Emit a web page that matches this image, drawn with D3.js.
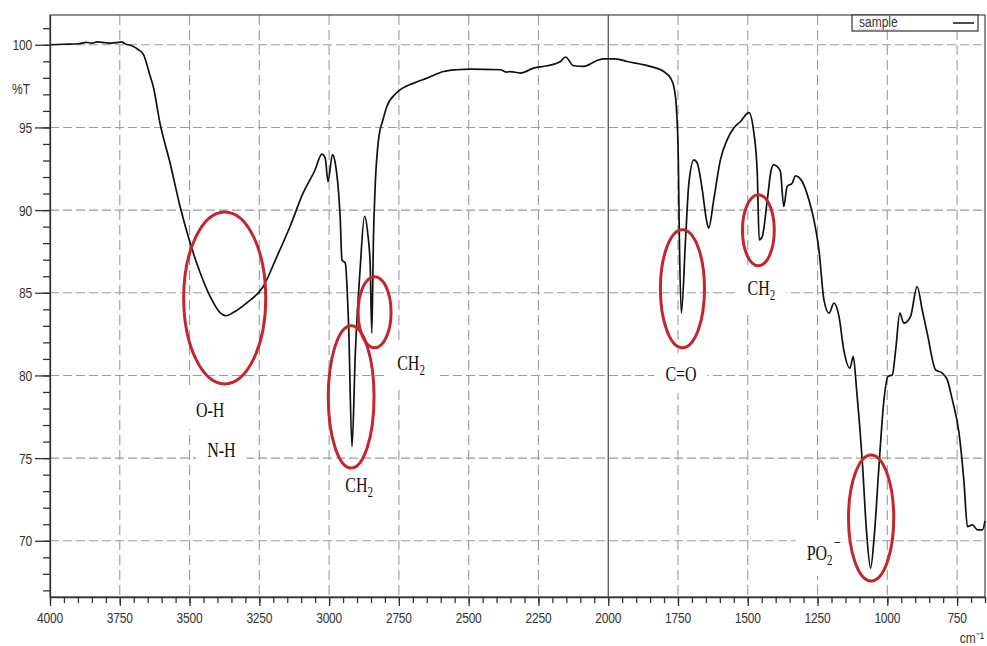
<!DOCTYPE html>
<html>
<head>
<meta charset="utf-8">
<script src="https://cdn.jsdelivr.net/npm/d3@7"></script>
<style>
  body { margin: 0; background: #fff; }
  svg { display: block; }
  .tick-label { font-family: "Liberation Sans", Arial, sans-serif; font-size: 12px; fill: #333; }
  .note { font-family: "Liberation Serif", "Times New Roman", serif; font-size: 16px; fill: #111; }
</style>
</head>
<body>
<svg id="chart" width="987" height="646"></svg>
<script>
/*** DATA ***/
// wavenumber (cm-1) left to right
var wavenumber = [4000, 3950, 3900, 3870, 3850, 3830, 3800, 3780, 3760, 3745, 3730, 3707, 3683, 3665, 3641,
  3630, 3606, 3570, 3534, 3498, 3462, 3426, 3390, 3369, 3344, 3295, 3236, 3187, 3140, 3093, 3050,
  3026, 3014, 3004, 2988, 2978, 2960, 2954, 2942, 2930, 2918, 2906, 2889, 2873, 2861, 2853, 2847,
  2841, 2835, 2823, 2807, 2793, 2757, 2697, 2649, 2590, 2542, 2494, 2387, 2363, 2351, 2315, 2267,
  2219, 2171, 2153, 2124, 2088, 2040, 2016, 1974, 1932, 1849, 1801, 1777, 1765, 1756, 1749, 1745,
  1738, 1723, 1711, 1693, 1681, 1663, 1648, 1640, 1622, 1598, 1574, 1550, 1526, 1496, 1478, 1466,
  1459, 1448, 1430, 1416, 1407, 1395, 1383, 1371, 1359, 1341, 1329, 1305, 1281, 1263, 1245, 1227,
  1209, 1191, 1173, 1156, 1134, 1122, 1110, 1090, 1074, 1060, 1046, 1030, 1012, 998, 982, 970,
  955, 941, 917, 893, 875, 857, 827, 803, 785, 767, 743, 725, 713, 695, 677, 659, 650];

// transmittance (%T)
var transmittance = [100.0, 100.03, 100.06, 100.14, 100.1, 100.17, 100.12, 100.1, 100.13, 100.17, 100.05, 99.94, 99.7, 99.4, 98.1,
  97.48, 95.26, 92.86, 90.22, 88.02, 86.21, 84.77, 83.79, 83.61, 83.8, 84.39, 85.38, 87.19, 89.01, 91.04, 92.44,
  93.39, 93.16, 91.73, 93.35, 92.84, 89.41, 86.99, 86.79, 82.96, 75.69, 81.38, 86.4, 89.62, 88.51, 86.79, 82.56,
  88.4, 91.43, 94.25, 95.46, 96.27, 97.11, 97.68, 97.98, 98.38, 98.49, 98.53, 98.49, 98.35, 98.38, 98.29, 98.59,
  98.73, 98.99, 99.26, 98.73, 98.69, 99.05, 99.15, 99.15, 98.99, 98.69, 98.38, 97.99, 97.48, 96.27, 93.24, 88.2,
  83.77, 88.2, 91.63, 93.04, 92.84, 91.23, 89.41, 88.91, 90.62, 93.04, 94.25, 94.96, 95.36, 95.9, 94.66, 92.24,
  88.2, 88.4, 90.62, 92.44, 92.74, 92.64, 92.33, 90.22, 91.43, 91.63, 92.07, 91.73, 90.62, 89.41, 87.6, 84.57,
  83.77, 84.37, 83.56, 81.55, 80.44, 81.14, 79.13, 74.89, 70.46, 68.34, 70.46, 74.49, 78.52, 79.93, 80.04, 81.55,
  83.77, 83.16, 83.56, 85.38, 83.97, 82.56, 80.34, 80.14, 79.73, 78.52, 76.51, 73.49, 70.86, 70.96, 70.66, 70.66, 71.2];

var xTicks = [4000, 3750, 3500, 3250, 3000, 2750, 2500, 2250, 2000, 1750, 1500, 1250, 1000, 750];
var yTicks = [70, 75, 80, 85, 90, 95, 100];

// marked bands: centre (cm-1, %T) and half widths
var bandWn = [3374, 2921, 2837, 1734, 1462, 1058];
var bandT = [84.69, 78.7, 83.82, 85.24, 88.78, 71.38];
var bandRx = [147, 82, 59, 79, 57, 81];
var bandRy = [5.2, 4.3, 2.15, 3.57, 2.15, 3.81];

// labels: main text, subscript, superscript, anchor (cm-1, %T)
var noteText = ['O-H', 'N-H', 'CH', 'CH', 'C=O', 'CH', 'PO'];
var noteSub = ['', '', '2', '2', '', '2', '2'];
var noteSup = ['', '', '', '', '', '', '\u2212'];
var noteWn = [3477, 3437, 2942, 2756, 1795, 1501, 1289];
var noteT = [77.49, 75.07, 72.96, 80.34, 79.67, 84.88, 68.84];

/*** CHART ***/
var svg = d3.select('#chart');
var plotLeft = 50, plotRight = 985, plotTop = 15, plotBottom = 597;
var stretch = 'scale(1,1.28)';

var x = d3.scaleLinear().domain([4000, 650]).range([plotLeft, plotRight]);
var y = d3.scaleLinear().domain([66.6, 101.8]).range([plotBottom, plotTop]);

//grid
var grid = svg.append('g').attr('class', 'grid');
grid.selectAll('.vgrid')
  .data(xTicks.filter(function(d) { return d != 4000 && d != 2000; }))
  .enter().append('line')
  .attr('x1', function(d) { return x(d); })
  .attr('x2', function(d) { return x(d); })
  .attr('y1', plotTop).attr('y2', plotBottom)
  .attr('stroke', '#9c9c9c').attr('stroke-width', 1.1).attr('stroke-dasharray', '10,5');
grid.selectAll('.hgrid')
  .data(yTicks)
  .enter().append('line')
  .attr('x1', plotLeft).attr('x2', plotRight)
  .attr('y1', function(d) { return y(d); })
  .attr('y2', function(d) { return y(d); })
  .attr('stroke', '#9c9c9c').attr('stroke-width', 1.1).attr('stroke-dasharray', '9,4');

//solid line at 2000
svg.append('line')
  .attr('x1', x(2000)).attr('x2', x(2000))
  .attr('y1', plotTop).attr('y2', plotBottom)
  .attr('stroke', '#222').attr('stroke-width', 1);

//white boxes behind labels
var notes = svg.append('g').attr('class', 'notes');
var noteGroups = notes.selectAll('g')
  .data(noteText.map(function(t, i) { return i; }))
  .enter().append('g')
  .attr('transform', function(i) { return 'translate(' + x(noteWn[i]) + ',' + y(noteT[i]) + ') ' + stretch; });
var noteRects = noteGroups.append('rect').attr('fill', '#fff');
var noteLabels = noteGroups.append('text').attr('class', 'note');
noteLabels.append('tspan').text(function(i) { return noteText[i]; });
noteLabels.append('tspan')
  .attr('font-size', 11).attr('dy', 4)
  .text(function(i) { return noteSub[i]; });
noteLabels.append('tspan')
  .attr('font-size', 13).attr('dy', -13).attr('dx', 1)
  .text(function(i) { return noteSup[i]; });
noteGroups.each(function() {
  var g = d3.select(this);
  var bb = g.select('text').node().getBBox();
  g.select('rect')
    .attr('x', bb.x - 11).attr('y', bb.y - 8)
    .attr('width', bb.width + 22).attr('height', bb.height + 14);
});

//frame
svg.append('rect')
  .attr('x', plotLeft).attr('y', plotTop)
  .attr('width', plotRight - plotLeft).attr('height', plotBottom - plotTop)
  .attr('fill', 'none').attr('stroke', '#444').attr('stroke-width', 1.2);

//spectrum
var spectrum = wavenumber.map(function(w, i) { return [w, transmittance[i]]; });
var line = d3.line()
  .x(function(d) { return x(d[0]); })
  .y(function(d) { return y(d[1]); })
  .curve(d3.curveMonotoneX);
svg.append('path')
  .datum(spectrum)
  .attr('d', line)
  .attr('fill', 'none')
  .attr('stroke', '#111')
  .attr('stroke-width', 1.7)
  .attr('stroke-linejoin', 'round');

//red rings
svg.append('g').selectAll('ellipse')
  .data(bandWn.map(function(w, i) { return i; }))
  .enter().append('ellipse')
  .attr('cx', function(i) { return x(bandWn[i]); })
  .attr('cy', function(i) { return y(bandT[i]); })
  .attr('rx', function(i) { return x(bandWn[i] - bandRx[i]) - x(bandWn[i]); })
  .attr('ry', function(i) { return y(bandT[i] - bandRy[i]) - y(bandT[i]); })
  .attr('fill', 'none')
  .attr('stroke', '#c3272c')
  .attr('stroke-width', 3);

//x axis
var minorX = d3.range(4000, 649, -50);
svg.append('g')
  .attr('transform', 'translate(0,' + plotBottom + ')')
  .call(d3.axisBottom(x).tickValues(minorX).tickSize(6).tickSizeOuter(0).tickFormat(''))
  .call(function(g) { g.selectAll('line, path').attr('stroke', '#333').attr('stroke-width', 1.3); });
svg.append('g')
  .attr('transform', 'translate(0,' + plotBottom + ')')
  .call(d3.axisBottom(x).tickValues(xTicks).tickSize(9).tickSizeOuter(0).tickFormat(''))
  .call(function(g) { g.select('.domain').remove(); g.selectAll('line').attr('stroke', '#333').attr('stroke-width', 1.3); });
svg.append('g').selectAll('g')
  .data(xTicks)
  .enter().append('g')
  .attr('transform', function(d) { return 'translate(' + x(d) + ',623) ' + stretch; })
  .append('text')
  .attr('class', 'tick-label')
  .attr('text-anchor', 'middle')
  .attr('letter-spacing', -0.2)
  .text(function(d) { return d; });

//y axis
var minorY = d3.range(67, 102, 1);
svg.append('g')
  .attr('transform', 'translate(' + plotLeft + ',0)')
  .call(d3.axisLeft(y).tickValues(minorY).tickSize(7).tickSizeOuter(0).tickFormat(''))
  .call(function(g) { g.selectAll('line, path').attr('stroke', '#333').attr('stroke-width', 1.3); });
svg.append('g')
  .attr('transform', 'translate(' + plotLeft + ',0)')
  .call(d3.axisLeft(y).tickValues(yTicks).tickSize(15).tickSizeOuter(0).tickFormat(''))
  .call(function(g) { g.select('.domain').remove(); g.selectAll('line').attr('stroke', '#333').attr('stroke-width', 1.3); });
svg.append('g').selectAll('g')
  .data(yTicks)
  .enter().append('g')
  .attr('transform', function(d) { return 'translate(32,' + (y(d) + 5.5) + ') ' + stretch; })
  .append('text')
  .attr('class', 'tick-label')
  .attr('text-anchor', 'end')
  .attr('letter-spacing', -0.2)
  .text(function(d) { return d; });

//axis titles
svg.append('g').attr('transform', 'translate(12,94) ' + stretch)
  .append('text').attr('class', 'tick-label').text('%T');
svg.append('g').attr('transform', 'translate(984,643) ' + stretch)
  .append('text').attr('class', 'tick-label').attr('text-anchor', 'end').text('cm\u207B\u00B9');

//legend
var legend = svg.append('g');
legend.append('rect')
  .attr('x', 852).attr('y', plotTop)
  .attr('width', 126).attr('height', 16)
  .attr('fill', '#fff').attr('stroke', '#333').attr('stroke-width', 1.2);
legend.append('g').attr('transform', 'translate(859,27) scale(1,1.15)')
  .append('text').attr('class', 'tick-label').attr('font-size', 12.5).text('sample');
legend.append('line')
  .attr('x1', 859).attr('x2', 900).attr('y1', 30).attr('y2', 30)
  .attr('stroke', '#5a9a5a').attr('stroke-width', 1).attr('stroke-dasharray', '1,1');
legend.append('line')
  .attr('x1', 953).attr('x2', 974).attr('y1', 23).attr('y2', 23)
  .attr('stroke', '#111').attr('stroke-width', 1.5);
</script>
</body>
</html>
